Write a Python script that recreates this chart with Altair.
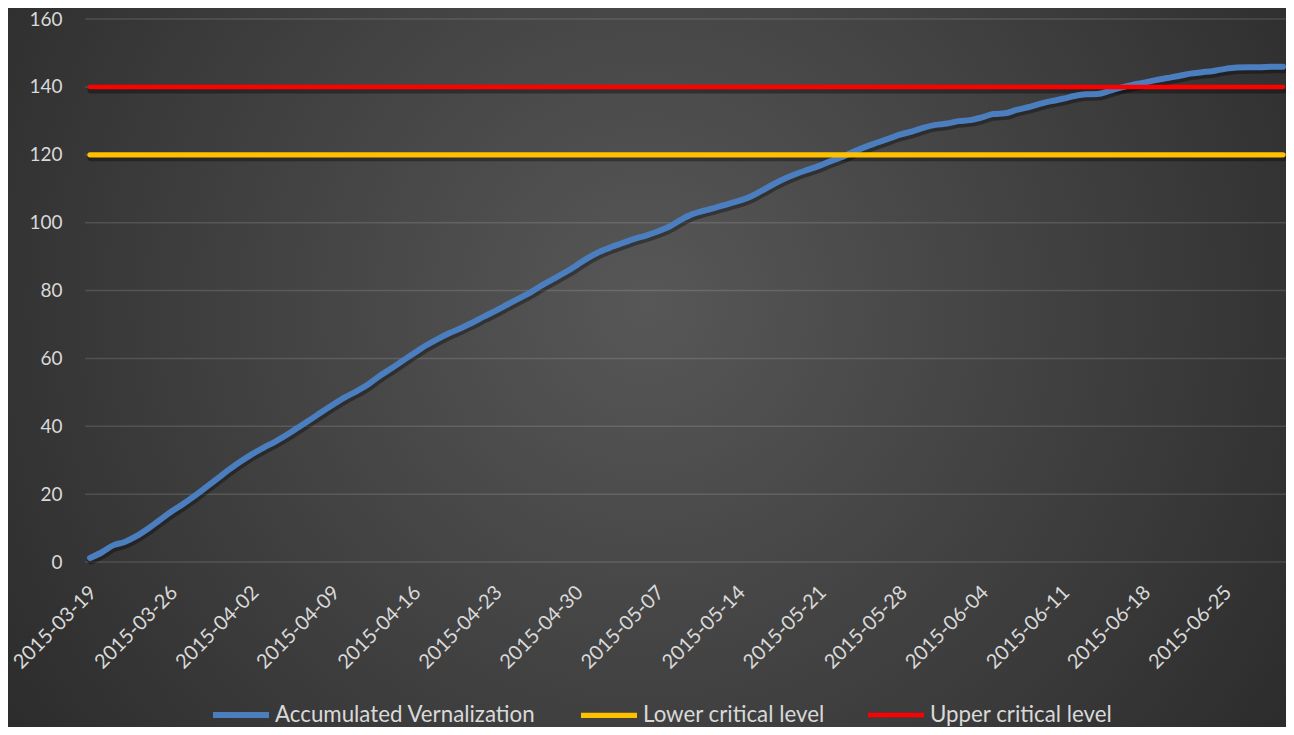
import altair as alt
import pandas as pd
from datetime import date, timedelta

start_date = "2015-03-19"
accumulated = [
    1.2, 2.8, 4.9, 5.9, 7.6, 9.8, 12.3, 14.8, 17.0, 19.4,
    22.0, 24.6, 27.2, 29.6, 31.8, 33.7, 35.5, 37.5, 39.7, 41.9,
    44.2, 46.4, 48.5, 50.3, 52.3, 54.8, 57.0, 59.3, 61.6, 63.8,
    65.7, 67.4, 68.9, 70.5, 72.3, 74.0, 75.8, 77.6, 79.4, 81.5,
    83.4, 85.3, 87.4, 89.6, 91.4, 92.8, 94.0, 95.2, 96.2, 97.4,
    98.8, 100.8, 102.5, 103.5, 104.4, 105.4, 106.4, 107.6, 109.4, 111.3,
    113.0, 114.4, 115.6, 116.8, 118.2, 119.4, 121.0, 122.4, 123.6, 124.8,
    126.0, 126.9, 128.0, 128.8, 129.2, 129.9, 130.2, 131.0, 132.0, 132.2,
    133.2, 134.0, 135.0, 135.8, 136.5, 137.3, 137.8, 137.9, 138.8, 139.8,
    140.6, 141.2, 142.0, 142.6, 143.2, 143.9, 144.3, 144.7, 145.3, 145.7,
    145.8, 145.8, 145.9, 145.9,
]
lower_level = 120
upper_level = 140
tick_labels = [
    "2015-03-19", "2015-03-26", "2015-04-02", "2015-04-09", "2015-04-16",
    "2015-04-23", "2015-04-30", "2015-05-07", "2015-05-14", "2015-05-21",
    "2015-05-28", "2015-06-04", "2015-06-11", "2015-06-18", "2015-06-25",
]
y_ticks = [0, 20, 40, 60, 80, 100, 120, 140, 160]
series_names = ["Accumulated Vernalization", "Lower critical level", "Upper critical level"]
series_colors = ["#4A7EBF", "#FFC000", "#FF0000"]

d0 = date.fromisoformat(start_date)
dates = [(d0 + timedelta(days=i)).isoformat() for i in range(len(accumulated))]

rows = []
for name, vals in zip(series_names, [accumulated,
                                     [lower_level] * len(accumulated),
                                     [upper_level] * len(accumulated)]):
    for d, v in zip(dates, vals):
        rows.append({"date": d, "value": v, "series": name})
df = pd.DataFrame(rows)
grid_df = pd.DataFrame({"tick": y_ticks})

W, H = 1193, 543
PL, PT, PR, PB = 82, 11, 3, 165
FONT = "Lato"
LABEL_COLOR = "#d9d9d9"


def dt(s):
    y, m, d = map(int, s.split("-"))
    return alt.DateTime(year=y, month=m, date=d, utc=True)


x_scale = alt.Scale(type="utc", domain=[dt(dates[0]), dt(dates[-1])], nice=False)
y_scale = alt.Scale(domain=[0, 160], nice=False)

x_axis = alt.Axis(
    values=[dt(t) for t in tick_labels],
    labelExpr="utcFormat(datum.value, '%Y-%m-%d')",
    labelAngle=-45, labelAlign="right", labelBaseline="middle",
    labelPadding=27, labelOffset=3, ticks=False, domain=False, grid=False,
    labelFont=FONT, labelFontSize=20, labelColor=LABEL_COLOR,
    labelOverlap=False, labelFlush=False, zindex=2, title=None,
)
y_axis = alt.Axis(
    values=y_ticks, ticks=False, domain=False, grid=False,
    labelFont=FONT, labelFontSize=19, labelColor=LABEL_COLOR, labelPadding=28,
    zindex=2, title=None,
)

bg = alt.Chart(pd.DataFrame({"a": [0]})).mark_rect(
    fill=alt.RadialGradient(
        gradient="radial",
        x1=0.5, y1=0.45, r1=0.0,
        x2=0.5, y2=0.45, r2=0.75,
        stops=[
            alt.GradientStop(color="#575757", offset=0),
            alt.GradientStop(color="#3a3a3a", offset=0.55),
            alt.GradientStop(color="#212121", offset=1),
        ],
    )
).encode(
    x=alt.value(-PL), x2=alt.value(W + PR),
    y=alt.value(-PT), y2=alt.value(H + PB),
)

grid = alt.Chart(grid_df).mark_rule(color="#ffffff", opacity=0.13, strokeWidth=1.5).encode(
    y=alt.Y("tick:Q", scale=y_scale, axis=y_axis, title=None),
    x=alt.value(-5), x2=alt.value(W + 6),
)

base = alt.Chart(df)

shadow = base.mark_line(
    color="#000000", opacity=0.35, strokeWidth=7, yOffset=3, xOffset=1,
    strokeCap="round", interpolate="monotone",
).encode(
    x=alt.X("date:T", scale=x_scale, axis=x_axis, title=None),
    y=alt.Y("value:Q", scale=y_scale, axis=y_axis, title=None),
    detail="series:N",
)

lines = base.mark_line(strokeCap="round", strokeJoin="round", interpolate="monotone").encode(
    x=alt.X("date:T", scale=x_scale, axis=x_axis, title=None),
    y=alt.Y("value:Q", scale=y_scale, axis=y_axis, title=None),
    color=alt.Color(
        "series:N",
        scale=alt.Scale(domain=series_names, range=series_colors),
        sort=series_names,
        legend=alt.Legend(
            orient="none", legendX=120, legendY=665, direction="horizontal",
            columns=3, title=None, symbolType="stroke", symbolStrokeWidth=6,
            symbolSize=3136, labelFont=FONT, labelFontSize=22.3, labelColor=LABEL_COLOR,
            labelLimit=500, columnPadding=34, labelOffset=3, padding=0, zindex=2,
        ),
    ),
    strokeWidth=alt.StrokeWidth(
        "series:N",
        scale=alt.Scale(domain=series_names, range=[6, 4.5, 4.5]),
        legend=None,
    ),
)

chart = alt.layer(bg, grid, shadow, lines).properties(
    width=W, height=H,
    autosize=alt.AutoSizeParams(type="none"),
    padding={"left": PL, "top": PT, "right": PR, "bottom": PB},
).configure(background="#2a2a2a").configure_view(stroke=None)

chart.save("out.html", embed_options={"renderer": "svg", "actions": False})
